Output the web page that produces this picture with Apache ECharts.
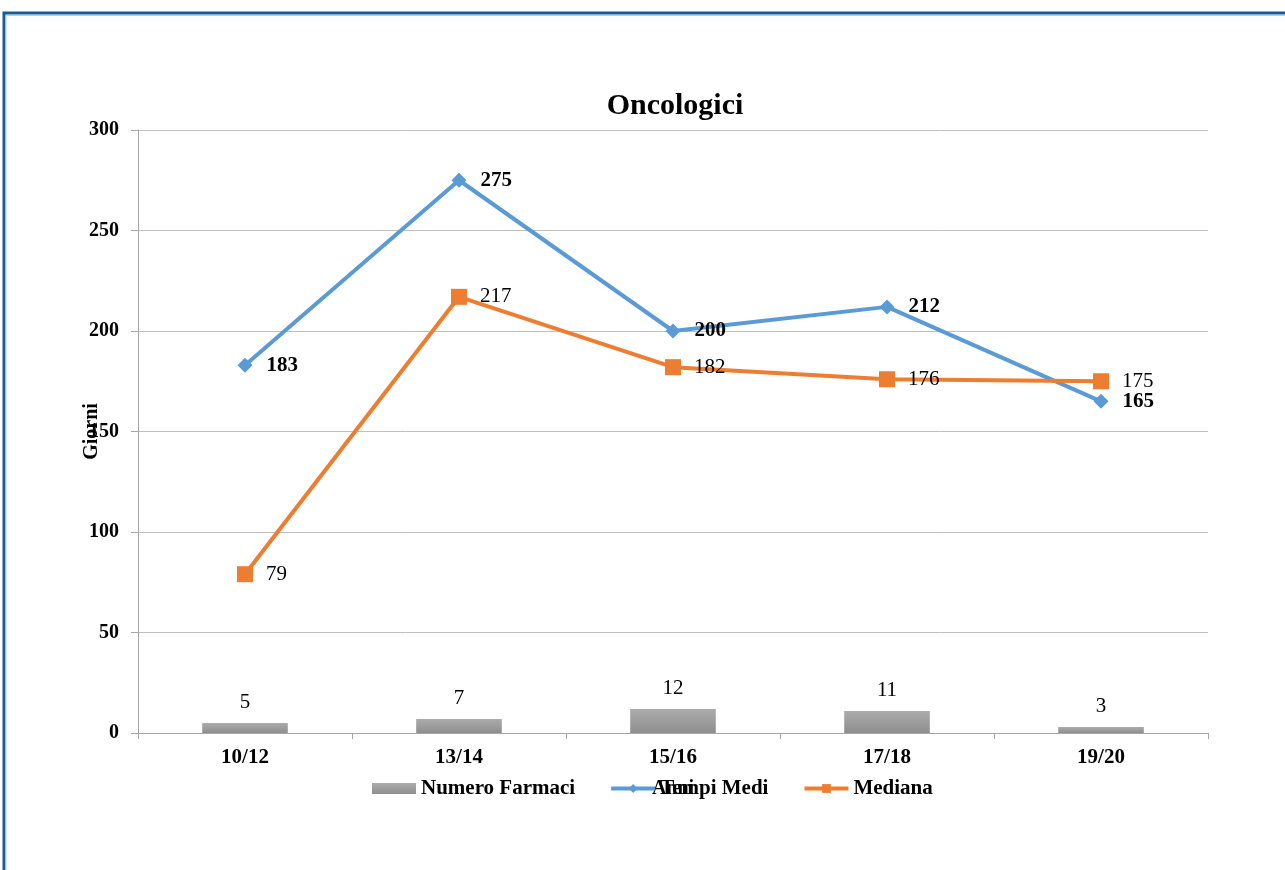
<!DOCTYPE html>
<html>
<head>
<meta charset="utf-8">
<script src="https://cdn.jsdelivr.net/npm/echarts@6/dist/echarts.min.js"></script>
<style>
html,body{margin:0;padding:0;background:#fff;}
#chart{width:1285px;height:870px;}
</style>
</head>
<body>
<div id="chart"></div>
<script>
const categories = ['10/12', '13/14', '15/16', '17/18', '19/20'];
const numeroFarmaci = [5, 7, 12, 11, 3];
const tempiMedi = [183, 275, 200, 212, 165];
const mediana = [79, 217, 182, 176, 175];
const yTicks = { min: 0, max: 300, interval: 50 };

const serif = '"Liberation Serif", "DejaVu Serif", serif';
const chart = echarts.init(document.getElementById('chart'));
chart.setOption({
  backgroundColor: '#fff',
  animation: false,
  title: {
    text: 'Oncologici',
    left: 670,
    textAlign: 'center',
    top: 86,
    textStyle: { fontFamily: serif, fontWeight: 'bold', fontSize: 30, color: '#000' }
  },
  graphic: [{
    type: 'polyline',
    silent: true,
    shape: { points: [[4, 870], [4, 13], [1285, 13]] },
    style: { stroke: '#1a5b97', lineWidth: 3, fill: null }
  }, {
    type: 'polyline',
    silent: true,
    shape: { points: [[6, 870], [6, 15.5], [1285, 15.5]] },
    style: { stroke: '#b9cde3', lineWidth: 1, fill: null }
  }],
  legend: {
    left: 367,
    top: 773,
    itemWidth: 44,
    itemHeight: 11,
    itemGap: 34,
    lineStyle: { width: 4 },
    textStyle: { fontFamily: serif, fontWeight: 'bold', fontSize: 21, color: '#000' },
    data: [{ name: 'Numero Farmaci', icon: 'rect' }, { name: 'Tempi Medi' }, { name: 'Mediana' }]
  },
  grid: { left: 138, top: 130, width: 1070, height: 603, containLabel: false },
  xAxis: {
    type: 'category',
    data: categories,
    name: 'Anni',
    nameLocation: 'middle',
    nameGap: 46,
    nameMoveOverlap: false,
    nameTextStyle: { fontFamily: serif, fontWeight: 'bold', fontSize: 20, color: '#000' },
    axisLine: { lineStyle: { color: '#a6a6a6', width: 1 } },
    axisTick: { show: true, length: 6, lineStyle: { color: '#a6a6a6' } },
    axisLabel: { fontFamily: serif, fontWeight: 'bold', fontSize: 21, color: '#000', margin: 14 }
  },
  yAxis: {
    type: 'value',
    min: yTicks.min,
    max: yTicks.max,
    interval: yTicks.interval,
    name: 'Giorni',
    nameLocation: 'middle',
    nameGap: 36,
    nameRotate: 90,
    nameMoveOverlap: false,
    nameTextStyle: { fontFamily: serif, fontWeight: 'bold', fontSize: 20, color: '#000' },
    axisLine: { show: true, lineStyle: { color: '#a6a6a6', width: 1 } },
    axisTick: { show: true, length: 7, lineStyle: { color: '#a6a6a6' } },
    axisLabel: { fontFamily: serif, fontWeight: 'bold', fontSize: 20, color: '#000', margin: 19 },
    splitLine: { lineStyle: { color: '#bfbfbf', width: 1 } }
  },
  series: [{
    name: 'Numero Farmaci',
    type: 'bar',
    data: numeroFarmaci,
    barWidth: '40%',
    itemStyle: {
      color: new echarts.graphic.LinearGradient(0, 0, 0, 1, [
        { offset: 0, color: '#acacac' }, { offset: 1, color: '#8e8e8e' }
      ])
    },
    label: { show: true, position: 'top', distance: 10, fontFamily: serif, fontSize: 21, color: '#000' }
  }, {
    name: 'Tempi Medi',
    type: 'line',
    data: tempiMedi,
    symbol: 'diamond',
    symbolSize: 15,
    lineStyle: { color: '#5b9bd5', width: 4 },
    itemStyle: { color: '#5b9bd5' },
    label: { show: true, position: 'right', distance: 14, fontFamily: serif, fontWeight: 'bold', fontSize: 21, color: '#000' }
  }, {
    name: 'Mediana',
    type: 'line',
    data: mediana,
    symbol: 'rect',
    symbolSize: 16,
    lineStyle: { color: '#ed7d31', width: 4 },
    itemStyle: { color: '#ed7d31' },
    label: { show: true, position: 'right', distance: 13, fontFamily: serif, fontSize: 21, color: '#000' }
  }]
});
</script>
</body>
</html>
